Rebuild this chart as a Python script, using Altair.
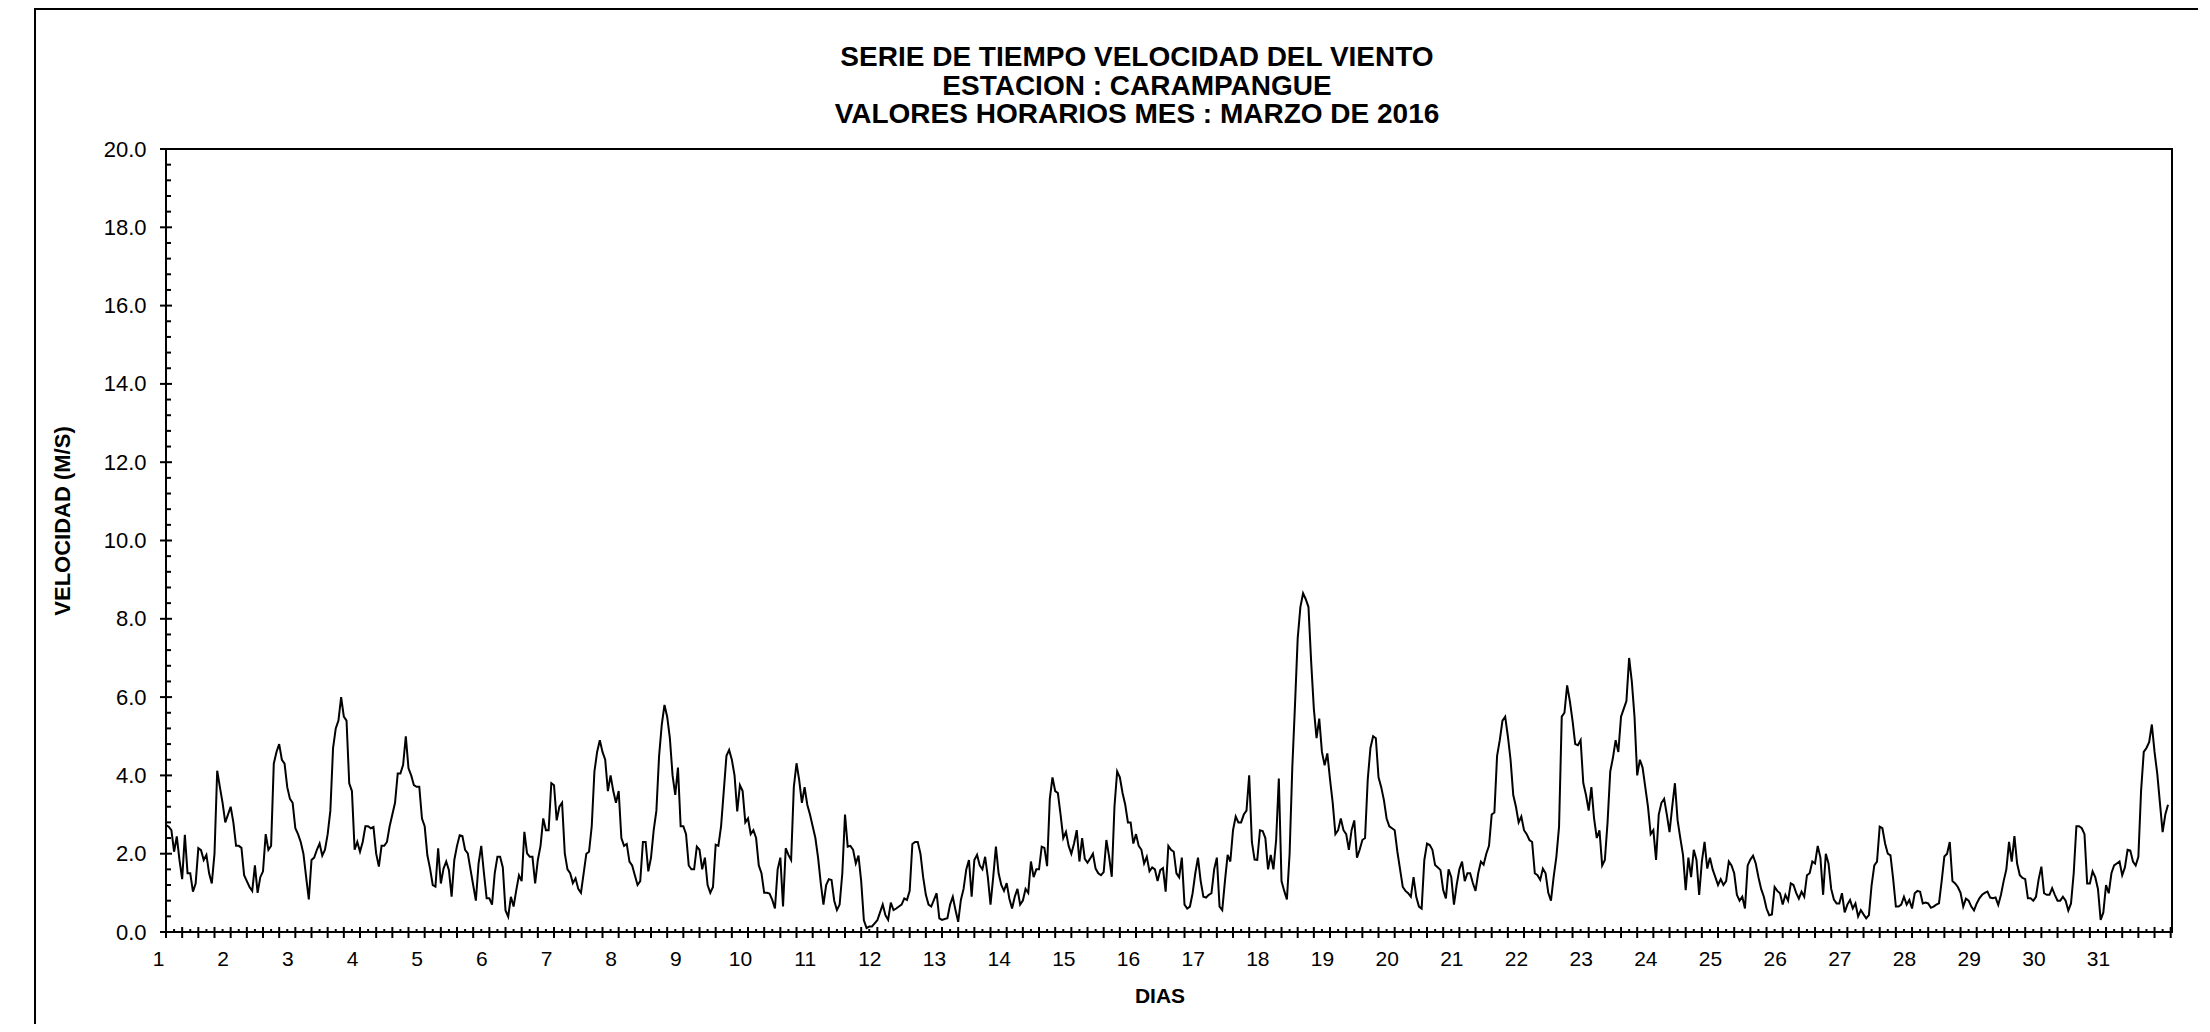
import altair as alt
import pandas as pd

# Hourly wind speed (m/s), March 2016, 4 days per list
dias_01_04 = [2.73, 2.69, 2.6, 2.05, 2.44, 1.84, 1.35, 2.48, 1.5, 1.5,
              1.03, 1.24, 2.14, 2.09, 1.84, 1.97, 1.5, 1.24, 2.0, 4.12,
              3.7, 3.3, 2.8, 3.0, 3.2, 2.8, 2.2, 2.2, 2.15, 1.45,
              1.3, 1.15, 1.05, 1.7, 1.0, 1.4, 1.55, 2.5, 2.1, 2.2,
              4.3, 4.6, 4.8, 4.4, 4.3, 3.7, 3.4, 3.3, 2.65, 2.5,
              2.3, 2.0, 1.41, 0.83, 1.84, 1.9, 2.1, 2.26, 1.95, 2.1,
              2.5, 3.1, 4.7, 5.2, 5.4, 6.0, 5.5, 5.4, 3.8, 3.6,
              2.1, 2.3, 2.05, 2.3, 2.7, 2.7, 2.65, 2.68, 2.0, 1.67,
              2.2, 2.2, 2.3, 2.7, 3.0, 3.3, 4.05, 4.05, 4.27, 5.0,
              4.18, 4.0, 3.75, 3.71, 3.71, 2.9]
dias_05_08 = [2.7, 1.96, 1.62, 1.2, 1.16, 2.14, 1.24, 1.62, 1.8, 1.58,
              0.9, 1.84, 2.2, 2.47, 2.45, 2.1, 2.01, 1.6, 1.2, 0.8,
              1.75, 2.2, 1.5, 0.86, 0.86, 0.7, 1.5, 1.92, 1.92, 1.65,
              0.55, 0.39, 0.9, 0.65, 1.07, 1.45, 1.3, 2.56, 2.01, 1.92,
              1.92, 1.24, 1.84, 2.2, 2.9, 2.6, 2.6, 3.8, 3.75, 2.85,
              3.2, 3.3, 2.01, 1.6, 1.5, 1.25, 1.37, 1.1, 1.0, 1.5,
              2.0, 2.05, 2.7, 4.1, 4.6, 4.9, 4.6, 4.4, 3.6, 4.0,
              3.6, 3.3, 3.6, 2.4, 2.2, 2.25, 1.8, 1.7, 1.45, 1.2,
              1.3, 2.3, 2.3, 1.55, 1.9, 2.6, 3.1, 4.5, 5.3, 5.8,
              5.5, 4.95, 4.0, 3.5, 4.2, 2.7]
dias_09_12 = [2.7, 2.5, 1.7, 1.6, 1.6, 2.18, 2.1, 1.6, 1.9, 1.2,
              1.0, 1.15, 2.23, 2.2, 2.7, 3.6, 4.5, 4.65, 4.4, 4.0,
              3.08, 3.75, 3.6, 2.8, 2.9, 2.5, 2.6, 2.4, 1.7, 1.5,
              1.0, 1.0, 0.98, 0.82, 0.6, 1.6, 1.9, 0.65, 2.14, 1.97,
              1.84, 3.7, 4.31, 3.88, 3.3, 3.7, 3.25, 3.0, 2.7, 2.4,
              1.9, 1.25, 0.7, 1.2, 1.35, 1.33, 0.8, 0.56, 0.7, 1.5,
              3.0, 2.18, 2.2, 2.1, 1.75, 1.95, 1.3, 0.3, 0.1, 0.14,
              0.14, 0.22, 0.3, 0.5, 0.7, 0.43, 0.31, 0.75, 0.56, 0.6,
              0.65, 0.7, 0.86, 0.82, 1.05, 2.25, 2.3, 2.3, 2.0, 1.4,
              0.95, 0.7, 0.65, 0.82, 0.99, 0.35]
dias_13_16 = [0.31, 0.33, 0.35, 0.7, 0.9, 0.56, 0.26, 0.82, 1.1, 1.6,
              1.84, 0.9, 1.84, 1.97, 1.7, 1.6, 1.92, 1.4, 0.7, 1.4,
              2.18, 1.5, 1.2, 1.05, 1.25, 0.85, 0.6, 0.9, 1.1, 0.7,
              0.8, 1.1, 1.0, 1.8, 1.4, 1.6, 1.6, 2.18, 2.15, 1.68,
              3.4, 3.95, 3.6, 3.55, 3.0, 2.4, 2.56, 2.2, 2.0, 2.26,
              2.6, 1.8, 2.4, 1.87, 1.77, 1.88, 2.0, 1.62, 1.5, 1.45,
              1.53, 2.35, 1.93, 1.41, 3.2, 4.1, 3.95, 3.55, 3.25, 2.8,
              2.8, 2.26, 2.5, 2.2, 2.1, 1.75, 1.92, 1.55, 1.65, 1.6,
              1.3, 1.58, 1.63, 1.03, 2.2, 2.1, 2.05, 1.5, 1.4, 1.9,
              0.7, 0.6, 0.65, 0.99, 1.5, 1.9]
dias_17_20 = [1.3, 0.9, 0.88, 0.95, 0.99, 1.6, 1.9, 0.65, 0.56, 1.3,
              1.97, 1.8, 2.6, 2.95, 2.8, 2.8, 3.0, 3.1, 4.0, 2.3,
              1.85, 1.84, 2.6, 2.58, 2.4, 1.6, 1.97, 1.6, 2.35, 3.92,
              1.3, 1.05, 0.83, 2.0, 4.2, 5.8, 7.5, 8.3, 8.65, 8.5,
              8.3, 6.9, 5.7, 4.95, 5.45, 4.6, 4.26, 4.56, 3.9, 3.3,
              2.5, 2.6, 2.9, 2.6, 2.5, 2.1, 2.6, 2.85, 1.9, 2.1,
              2.35, 2.4, 3.9, 4.7, 5.0, 4.95, 3.95, 3.7, 3.37, 2.9,
              2.7, 2.65, 2.6, 2.05, 1.6, 1.15, 1.05, 0.99, 0.9, 1.4,
              0.9, 0.65, 0.6, 1.84, 2.26, 2.22, 2.1, 1.71, 1.65, 1.58,
              1.07, 0.86, 1.6, 1.4, 0.7, 1.2]
dias_21_24 = [1.6, 1.8, 1.3, 1.5, 1.5, 1.25, 1.05, 1.5, 1.8, 1.72,
              2.0, 2.2, 3.0, 3.05, 4.5, 4.9, 5.4, 5.5, 5.0, 4.4,
              3.5, 3.2, 2.8, 2.95, 2.6, 2.5, 2.35, 2.3, 1.5, 1.45,
              1.33, 1.62, 1.5, 1.0, 0.8, 1.41, 1.92, 2.69, 5.5, 5.6,
              6.3, 5.9, 5.4, 4.8, 4.77, 4.9, 3.8, 3.5, 3.1, 3.7,
              2.9, 2.4, 2.6, 1.7, 1.84, 2.8, 4.1, 4.45, 4.9, 4.6,
              5.5, 5.7, 5.9, 7.0, 6.4, 5.5, 4.0, 4.4, 4.2, 3.7,
              3.2, 2.5, 2.6, 1.84, 3.0, 3.3, 3.4, 3.0, 2.55, 3.2,
              3.8, 2.85, 2.4, 1.97, 1.07, 1.9, 1.4, 2.1, 1.84, 0.95,
              1.8, 2.3, 1.62, 1.9, 1.6, 1.4]
dias_25_28 = [1.2, 1.35, 1.2, 1.3, 1.8, 1.7, 1.5, 0.95, 0.8, 0.9,
              0.6, 1.7, 1.85, 1.95, 1.75, 1.4, 1.1, 0.9, 0.6, 0.43,
              0.45, 1.15, 1.05, 0.99, 0.7, 0.95, 0.8, 1.24, 1.2, 1.0,
              0.85, 1.03, 0.9, 1.45, 1.5, 1.8, 1.75, 2.2, 1.9, 0.95,
              2.0, 1.75, 1.1, 0.83, 0.73, 0.73, 0.99, 0.5, 0.7, 0.82,
              0.6, 0.73, 0.4, 0.56, 0.45, 0.35, 0.43, 1.2, 1.7, 1.8,
              2.69, 2.65, 2.26, 2.0, 1.96, 1.35, 0.65, 0.65, 0.7, 0.9,
              0.7, 0.82, 0.6, 0.99, 1.05, 1.03, 0.73, 0.75, 0.73, 0.62,
              0.65, 0.7, 0.73, 1.3, 1.93, 2.0, 2.3, 1.3, 1.24, 1.15,
              1.0, 0.65, 0.85, 0.8, 0.65, 0.55]
dias_29_31 = [0.73, 0.86, 0.95, 1.0, 1.03, 0.88, 0.86, 0.88, 0.69, 0.95,
              1.3, 1.6, 2.3, 1.8, 2.45, 1.75, 1.45, 1.38, 1.35, 0.86,
              0.86, 0.8, 0.9, 1.35, 1.67, 0.99, 0.95, 0.95, 1.12, 0.95,
              0.8, 0.8, 0.9, 0.8, 0.55, 0.73, 1.5, 2.7, 2.7, 2.65,
              2.5, 1.24, 1.24, 1.55, 1.4, 1.1, 0.31, 0.5, 1.2, 0.99,
              1.5, 1.7, 1.75, 1.8, 1.45, 1.65, 2.1, 2.08, 1.8, 1.7,
              1.92, 3.6, 4.6, 4.7, 4.85, 5.3, 4.6, 4.05, 3.3, 2.55,
              3.0, 3.25]

dias_etiquetas = list(range(1, 32))
y_etiquetas = [0, 2, 4, 6, 8, 10, 12, 14, 16, 18, 20]

titulo = ["SERIE DE TIEMPO VELOCIDAD DEL VIENTO",
          "ESTACION : CARAMPANGUE",
          "VALORES HORARIOS MES : MARZO DE 2016"]

serie = (dias_01_04 + dias_05_08 + dias_09_12 + dias_13_16 +
         dias_17_20 + dias_21_24 + dias_25_28 + dias_29_31)
df = pd.DataFrame({"hora": list(range(len(serie))), "vel": serie})
df["dia"] = 1 + df["hora"] / 24.0

# tick positions (axis decoration)
x_mayor = pd.DataFrame({"dia": [1 + k / 4 for k in range(125)]})
x_menor = pd.DataFrame({"dia": [1.125 + k / 4 for k in range(124)]})
y_mayor = pd.DataFrame({"vel": y_etiquetas})
y_menor = pd.DataFrame({"vel": [round(k * 0.4, 2) for k in range(51) if k % 5 != 0]})

W, H = 2006, 783
FONT = "Liberation Sans"
xs = alt.Scale(domain=[1.0, 32.02], nice=False, zero=False)
ys = alt.Scale(domain=[0, 20], nice=False)
one = pd.DataFrame({"k": [0]})

x_axis = alt.Axis(values=dias_etiquetas, labelOffset=-8, ticks=False,
                  domain=False, grid=False, title=None, labelFlush=False,
                  labelOverlap=False, labelPadding=16, labelFontSize=21,
                  labelFont=FONT, labelColor="black")
y_axis = alt.Axis(values=y_etiquetas, format=".1f", ticks=False,
                  domain=False, grid=False, title=None, labelPadding=20,
                  labelFontSize=22, labelFont=FONT, labelColor="black")
X = alt.X("dia:Q", scale=xs, axis=x_axis)
Y = alt.Y("vel:Q", scale=ys, axis=y_axis)

linea = alt.Chart(df).mark_line(color="black", strokeWidth=2).encode(x=X, y=Y)

tx_may = alt.Chart(x_mayor).mark_rule(color="black", strokeWidth=2).encode(
    x=X, y=alt.value(H - 5), y2=alt.value(H + 6))
tx_men = alt.Chart(x_menor).mark_rule(color="black", strokeWidth=2).encode(
    x=X, y=alt.value(H - 3), y2=alt.value(H))
ty_may = alt.Chart(y_mayor).mark_rule(color="black", strokeWidth=2).encode(
    y=Y, x=alt.value(-6), x2=alt.value(6))
ty_men = alt.Chart(y_menor).mark_rule(color="black", strokeWidth=2).encode(
    y=Y, x=alt.value(0), x2=alt.value(5))

marco = alt.Chart(one).mark_rect(fill=None, stroke="black", strokeWidth=2).encode(
    x=alt.value(-131), x2=alt.value(2100), y=alt.value(-140), y2=alt.value(950))

def linea_titulo(texto, y):
    return alt.Chart(one).mark_text(text=texto, font=FONT, fontSize=28, fontWeight="bold",
                                    baseline="middle", align="center", color="black").encode(
        x=alt.value(971), y=alt.value(y))

t1 = linea_titulo(titulo[0], -91)
t2 = linea_titulo(titulo[1], -62.5)
t3 = linea_titulo(titulo[2], -34)

ytit = alt.Chart(one).mark_text(text="VELOCIDAD (M/S)", font=FONT, fontSize=22,
                                fontWeight="bold", angle=270, baseline="middle",
                                align="center", color="black").encode(
    x=alt.value(-103), y=alt.value(372))
xtit = alt.Chart(one).mark_text(text="DIAS", font=FONT, fontSize=21, fontWeight="bold",
                                baseline="middle", align="center", color="black").encode(
    x=alt.value(994), y=alt.value(848))

chart = alt.layer(marco, linea, tx_may, tx_men, ty_may, ty_men, t1, t2, t3, ytit, xtit).properties(
    width=W, height=H,
    autosize=alt.AutoSizeParams(type="none"),
    padding={"left": 158, "top": 141, "right": 26, "bottom": 92},
    background="white",
).configure_view(stroke="black", strokeWidth=2)

chart.save("out.html", embed_options={"renderer": "svg", "actions": False})
